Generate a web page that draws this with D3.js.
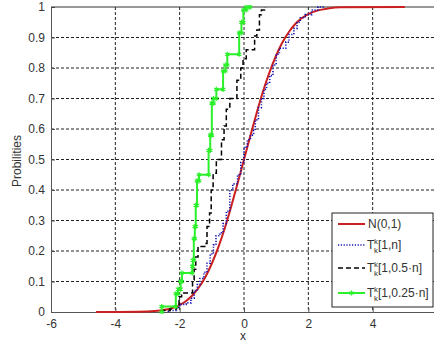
<!DOCTYPE html>
<html>
<head>
<meta charset="utf-8">
<script src="https://cdn.jsdelivr.net/npm/d3@7"></script>
<style>
  body { margin: 0; background: #fff; }
  text { font-family: "Liberation Sans", Arial, sans-serif; }
</style>
</head>
<body>
<div id="chart"></div>
<script>
// x ticks and y ticks (the x=6 label falls outside the window)
const xTicks = [-6, -4, -2, 0, 2, 4];
const yTicks = [0, 0.1, 0.2, 0.3, 0.4, 0.5, 0.6, 0.7, 0.8, 0.9, 1];

// N(0,1) curve
const normX = [-4.6, -3.0, -2.6, -2.2, -2.0, -1.8, -1.6, -1.4, -1.2, -1.0, -0.8, -0.6, -0.4, -0.2, 0, 0.2, 0.4, 0.6, 0.8, 1.0, 1.2, 1.4, 1.6, 1.8, 2.0, 2.3, 2.6, 3.0, 5.0];
const normY = [0, 0.002, 0.005, 0.014, 0.023, 0.036, 0.055, 0.081, 0.115, 0.159, 0.212, 0.274, 0.345, 0.421, 0.5, 0.579, 0.655, 0.726, 0.788, 0.841, 0.885, 0.919, 0.945, 0.964, 0.977, 0.989, 0.995, 0.999, 1];

// T[1,n] step points (x where the step happens, level after it)
const t1X = [-2.35, -2.1, -2.0, -1.8, -1.65, -1.55, -1.45, -1.37, -1.25, -1.15, -1.05, -0.95, -0.87, -0.75, -0.65, -0.55, -0.44, -0.35, -0.2, -0.1, 0.0, 0.1, 0.2, 0.3, 0.35, 0.45, 0.54, 0.62, 0.7, 0.8, 0.9, 1.0, 1.1, 1.3, 1.4, 1.55, 1.65, 1.75, 1.9, 2.1, 2.3, 2.5];
const t1Y = [0.005, 0.015, 0.025, 0.03, 0.045, 0.07, 0.09, 0.11, 0.13, 0.16, 0.19, 0.22, 0.25, 0.26, 0.29, 0.33, 0.40, 0.42, 0.45, 0.49, 0.54, 0.565, 0.58, 0.595, 0.63, 0.67, 0.70, 0.73, 0.75, 0.775, 0.81, 0.845, 0.865, 0.885, 0.91, 0.93, 0.95, 0.965, 0.975, 0.99, 1.0, 1.0];

// T[1,0.5n] step points
const t2X = [-2.55, -2.3, -2.1, -2.02, -1.94, -1.6, -1.55, -1.5, -1.43, -1.22, -1.15, -1.07, -1.02, -0.96, -0.86, -0.7, -0.62, -0.55, -0.44, -0.22, -0.1, -0.03, 0.07, 0.33, 0.4, 0.48, 0.54, 0.64, 0.66];
const t2Y = [0.005, 0.01, 0.015, 0.05, 0.062, 0.105, 0.14, 0.18, 0.215, 0.225, 0.28, 0.325, 0.4, 0.455, 0.5, 0.565, 0.61, 0.665, 0.70, 0.76, 0.80, 0.83, 0.86, 0.905, 0.925, 0.975, 0.99, 0.998, 1.0];

// T[1,0.25n] step points
const t3X = [-2.56, -2.12, -2.05, -1.97, -1.93, -1.61, -1.59, -1.56, -1.53, -1.5, -1.46, -1.40, -1.10, -1.05, -1.00, -0.95, -0.86, -0.65, -0.58, -0.52, -0.15, -0.08, -0.02, 0.07, 0.18];
const t3Y = [0.018, 0.06, 0.075, 0.1, 0.128, 0.15, 0.17, 0.24, 0.28, 0.35, 0.43, 0.45, 0.53, 0.58, 0.685, 0.70, 0.73, 0.79, 0.81, 0.845, 0.915, 0.95, 0.99, 1.0, 1.0];

const w = 434;
const h = 345;
const mLeft = 51, mRight = 437, mTop = 7, mBottom = 312;

const svg = d3.select('#chart')
              .append('svg')
              .attr('width', w)
              .attr('height', h);

const xScale = d3.scaleLinear().domain([-6, 6]).range([mLeft, mRight]);
const yScale = d3.scaleLinear().domain([0, 1]).range([mBottom, mTop]);

svg.append('defs').append('clipPath').attr('id', 'clip')
   .append('rect').attr('x', mLeft).attr('y', mTop - 2)
   .attr('width', mRight - mLeft).attr('height', mBottom - mTop + 4);

//grid
const grid = svg.append('g');
grid.selectAll('.vg')
    .data(xTicks.slice(1))
    .enter().append('line')
    .attr('x1', d => xScale(d)).attr('x2', d => xScale(d))
    .attr('y1', mTop).attr('y2', mBottom)
    .attr('stroke', '#222').attr('stroke-width', 1)
    .attr('stroke-dasharray', '3,2');
grid.selectAll('.hg')
    .data(yTicks.slice(1, -1))
    .enter().append('line')
    .attr('x1', mLeft).attr('x2', mRight)
    .attr('y1', d => yScale(d)).attr('y2', d => yScale(d))
    .attr('stroke', '#222').attr('stroke-width', 1)
    .attr('stroke-dasharray', '3,2');

//axes (MATLAB style ticks inside)
const xAxis = d3.axisBottom(xScale).tickValues(xTicks).tickSizeInner(-4).tickSizeOuter(0).tickPadding(7).tickFormat(d => d);
const yAxis = d3.axisLeft(yScale).tickValues(yTicks).tickSizeInner(-4).tickSizeOuter(0).tickPadding(6).tickFormat(d => d);

const gx = svg.append('g').attr('transform', `translate(0,${mBottom})`).call(xAxis);
const gy = svg.append('g').attr('transform', `translate(${mLeft},0)`).call(yAxis);
[gx, gy].forEach(g => {
  g.selectAll('path, line').attr('stroke', '#555');
  g.selectAll('text').attr('fill', '#333').style('font-size', '12px');
});
svg.append('line').attr('x1', mLeft).attr('x2', mRight).attr('y1', mTop).attr('y2', mTop)
   .attr('stroke', '#333');

//lines
const plot = svg.append('g').attr('clip-path', 'url(#clip)');

const toPts = (xs, ys) => xs.map((x, i) => [x, ys[i]]);
const line = d3.line().x(d => xScale(d[0])).y(d => yScale(d[1]));
const smooth = d3.line().x(d => xScale(d[0])).y(d => yScale(d[1])).curve(d3.curveMonotoneX);

// stairs: vertical jump at each x, from the previous level
const mkStairs = (xs, ys) => {
  let pts = [];
  xs.forEach((x, i) => { pts.push([x, i == 0 ? 0 : ys[i - 1]]); pts.push([x, ys[i]]); });
  return pts;
};

plot.append('path')
    .attr('d', smooth(toPts(normX, normY)))
    .attr('fill', 'none').attr('stroke', '#cc1f1f').attr('stroke-width', 2);

plot.append('path')
    .attr('d', line(mkStairs(t1X, t1Y)))
    .attr('fill', 'none').attr('stroke', '#1010b0').attr('stroke-width', 1.6)
    .attr('stroke-dasharray', '1.2,1.6');

plot.append('path')
    .attr('d', line(mkStairs(t2X, t2Y)))
    .attr('fill', 'none').attr('stroke', '#000').attr('stroke-width', 1.5)
    .attr('stroke-dasharray', '5,3');

const greenPts = mkStairs(t3X, t3Y);
plot.append('path')
    .attr('d', line(greenPts))
    .attr('fill', 'none').attr('stroke', '#2bf02b').attr('stroke-width', 2);

const star = d3.symbol().type(d3.symbolAsterisk).size(18);
plot.selectAll('.star')
    .data(greenPts)
    .enter().append('path')
    .attr('d', star)
    .attr('transform', d => `translate(${xScale(d[0])},${yScale(d[1])})`)
    .attr('fill', 'none').attr('stroke', '#2bf02b').attr('stroke-width', 1.2);

//axis labels
svg.append('text').attr('x', xScale(0) - 1).attr('y', 340).attr('text-anchor', 'middle')
   .attr('fill', '#333').style('font-size', '12px').text('x');
svg.append('text').attr('transform', 'translate(21,161) rotate(-90)').attr('text-anchor', 'middle')
   .attr('fill', '#333').style('font-size', '12px').text('Probilities');

//legend
const legend = svg.append('g');
legend.append('rect').attr('x', 332).attr('y', 213).attr('width', 101).attr('height', 94)
      .attr('fill', '#fff').attr('stroke', '#222').attr('stroke-width', 1);

const legendItems = [
  { name: 'N(0,1)', color: '#cc1f1f', dash: null, width: 2, t: false },
  { name: '[1,n]', color: '#1010b0', dash: '1.2,1.6', width: 1.6, t: true },
  { name: '[1,0.5·n]', color: '#000', dash: '5,3', width: 1.5, t: true },
  { name: '[1,0.25·n]', color: '#2bf02b', dash: null, width: 2, t: true }
];
const rowY = [224, 245, 268, 293];

legendItems.forEach((d, i) => {
  const y = rowY[i];
  legend.append('line').attr('x1', 338).attr('x2', 365).attr('y1', y).attr('y2', y)
        .attr('stroke', d.color).attr('stroke-width', d.width)
        .attr('stroke-dasharray', d.dash);
  if (i == 3) {
    legend.append('path').attr('d', star).attr('transform', `translate(351.5,${y})`)
          .attr('fill', 'none').attr('stroke', d.color).attr('stroke-width', 1.2);
  }
  if (!d.t) {
    legend.append('text').attr('x', 368).attr('y', y + 4).attr('fill', '#333')
          .style('font-size', '12px').text(d.name);
  } else {
    legend.append('text').attr('x', 367).attr('y', y + 4).attr('fill', '#333')
          .style('font-size', '12px').text('T');
    legend.append('text').attr('x', 374).attr('y', y - 1).attr('fill', '#333')
          .style('font-size', '8px').text('k');
    legend.append('text').attr('x', 374).attr('y', y + 8).attr('fill', '#333')
          .style('font-size', '8px').text('k');
    legend.append('text').attr('x', 378).attr('y', y + 4).attr('fill', '#333')
          .style('font-size', '12px').text(d.name);
  }
});
</script>
</body>
</html>
